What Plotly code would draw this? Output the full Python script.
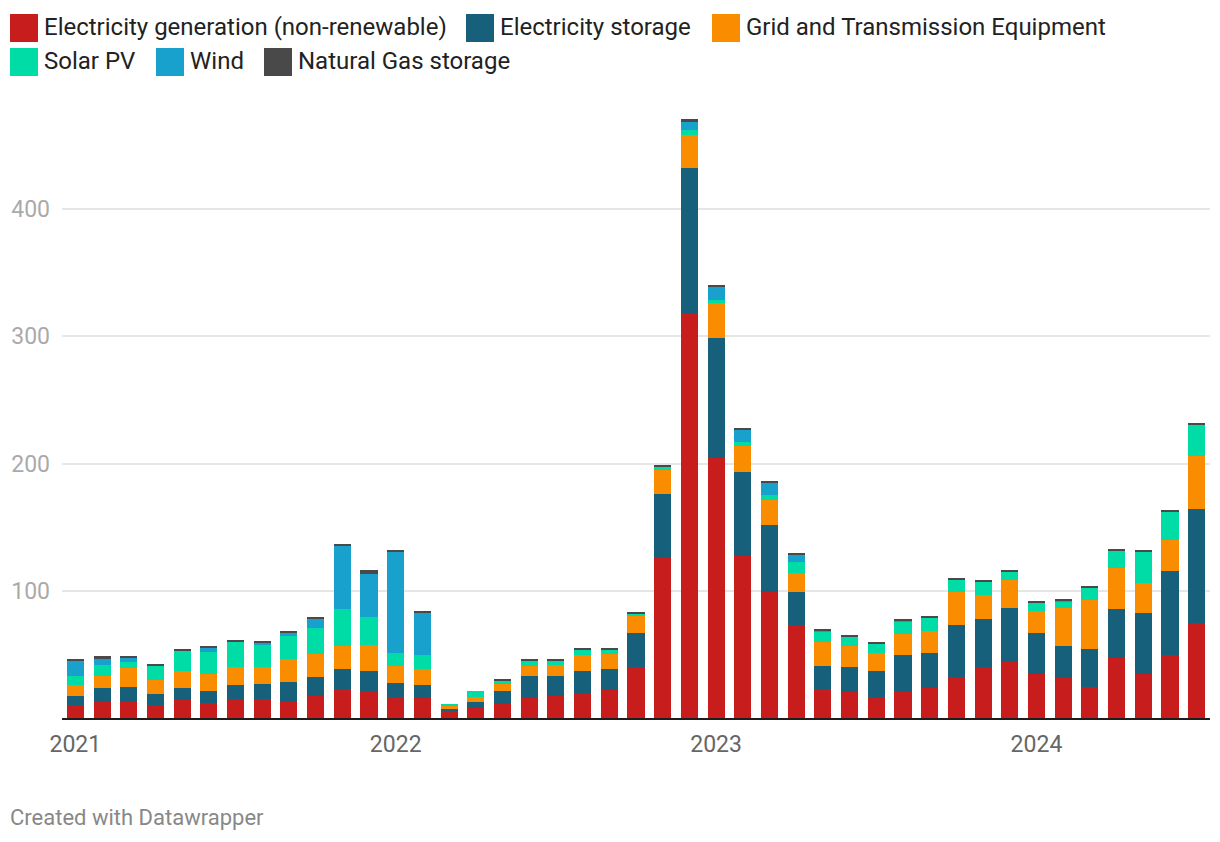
import plotly.graph_objects as go

months = [f"{m} {y}" for y in (2021, 2022, 2023, 2024)
          for m in ("Jan", "Feb", "Mar", "Apr", "May", "Jun", "Jul", "Aug", "Sep", "Oct", "Nov", "Dec")][:43]

gen_nonren = [10.2, 12.8, 12.8, 10.2, 14.4, 11.8, 14.9, 14.9, 13.3, 17.5, 22.8, 21.2,
              16.5, 16.0, 5.5, 8.1, 11.3, 16.0, 17.5, 19.6, 22.3, 40.1, 126.0, 318.3,
              204.6, 127.5, 99.3, 73.1, 22.8, 20.7, 16.5, 20.7, 23.8, 32.2, 40.1, 44.8,
              34.8, 31.7, 24.4, 47.4, 34.8, 49.5, 74.7]
storage = [7.1, 11.0, 11.6, 8.7, 9.2, 9.4, 11.0, 11.8, 15.0, 14.7, 15.7, 15.7,
           11.0, 9.9, 1.6, 4.5, 9.9, 17.2, 15.7, 17.3, 16.2, 26.7, 50.3, 113.9,
           94.0, 65.8, 52.4, 25.9, 18.1, 19.4, 20.4, 28.8, 27.3, 40.9, 37.7, 41.6,
           32.0, 24.9, 29.8, 38.2, 47.7, 66.0, 89.5]
grid = [8.6, 9.4, 15.1, 11.2, 13.3, 13.6, 14.2, 13.4, 18.1, 18.3, 18.3, 20.5,
        13.6, 12.6, 2.1, 3.9, 5.8, 7.9, 8.4, 12.6, 12.0, 13.6, 18.8, 26.0,
        27.5, 20.7, 19.8, 14.9, 19.1, 16.7, 14.2, 16.7, 17.3, 26.2, 18.9, 22.3,
        17.3, 30.1, 38.8, 32.5, 23.6, 24.6, 41.9]
solar = [7.3, 8.4, 4.5, 10.8, 16.5, 17.1, 19.6, 18.0, 18.1, 20.2, 28.8, 22.0,
         10.0, 11.0, 1.8, 4.7, 2.6, 3.7, 3.2, 3.9, 2.9, 1.6, 2.1, 3.8,
         2.4, 2.9, 3.7, 8.7, 7.8, 6.9, 7.8, 10.0, 10.2, 9.1, 10.2, 6.3,
         6.5, 5.2, 9.9, 13.9, 24.4, 21.8, 24.7]
wind = [11.6, 4.8, 3.4, 0, 0, 3.1, 0, 0.8, 2.4, 7.1, 49.6, 33.8,
        79.4, 33.0, 0, 0, 0, 0, 0, 0, 0, 0, 0, 6.4,
        10.2, 9.4, 9.5, 5.5, 0.6, 0, 0, 0.8, 0, 0, 0, 0,
        0, 0.8, 0, 0, 0, 0, 0]
gas = [1.6, 2.3, 1.3, 1.5, 0.8, 1.6, 1.6, 1.6, 1.5, 1.6, 0.8, 3.1,
       1.5, 1.6, 0, 0, 1.0, 1.6, 0.8, 1.6, 1.6, 1.3, 1.6, 2.3,
       1.6, 1.6, 1.5, 0.8, 1.5, 1.5, 1.1, 0.8, 0.8, 1.6, 0.8, 1.3,
       1.3, 0.8, 0.8, 0.8, 1.5, 0.8, 1.0]

series_names = ["Electricity generation (non-renewable)", "Electricity storage",
                "Grid and Transmission Equipment", "Solar PV", "Wind", "Natural Gas storage"]
series_values = [gen_nonren, storage, grid, solar, wind, gas]
colors = ["#c71e1d", "#17607b", "#fa8c00", "#00dca6", "#19a1cd", "#494949"]

year_ticks = ["Jan 2021", "Jan 2022", "Jan 2023", "Jan 2024"]
year_labels = ["2021", "2022", "2023", "2024"]
y_ticks = [100, 200, 300, 400]

W, H = 1220, 842
ML, MR, MT, MB = 62, 10, 100, 124
PW, PH = W - ML - MR, H - MT - MB

fig = go.Figure()
for name, vals, col in zip(series_names, series_values, colors):
    fig.add_trace(go.Bar(x=months, y=vals, name=name, marker=dict(color=col, line=dict(width=0)),
                         showlegend=False))


def px_x(p):
    return (p - ML) / PW


def px_y(p):
    return (H - MB - p) / PH


# manual legend (two rows, Datawrapper style)
legend_rows = [[0, 1, 2], [3, 4, 5]]
legend_swatch_x = [[10, 466, 712], [10, 156, 264]]
legend_row_y = [(14, 42), (48, 76)]
shapes = []
annotations = []
for r, row in enumerate(legend_rows):
    y0, y1 = legend_row_y[r]
    for i, si in enumerate(row):
        sx = legend_swatch_x[r][i]
        shapes.append(dict(type="rect", xref="paper", yref="paper",
                           x0=px_x(sx), x1=px_x(sx + 28), y0=px_y(y1), y1=px_y(y0),
                           fillcolor=colors[si], line=dict(width=0), layer="above"))
        annotations.append(dict(text=series_names[si], xref="paper", yref="paper",
                                x=px_x(sx + 32), y=px_y((y0 + y1) / 2 - 1), xanchor="left",
                                yanchor="middle", showarrow=False,
                                font=dict(family="Roboto", size=24, color="#222222")))

annotations.append(dict(text="Created with Datawrapper", xref="paper", yref="paper",
                        x=px_x(8), y=px_y(817), xanchor="left", yanchor="middle",
                        showarrow=False, font=dict(family="Roboto", size=22, color="#888888")))

fig.update_layout(
    barmode="stack",
    bargap=0.36,
    width=W, height=H,
    margin=dict(l=ML, r=MR, t=MT, b=MB),
    paper_bgcolor="white", plot_bgcolor="white",
    font=dict(family="Roboto"),
    shapes=shapes,
    annotations=annotations,
    xaxis=dict(type="category", tickmode="array", tickvals=year_ticks, ticktext=year_labels,
               showgrid=False, showline=True, linecolor="#1d1d1d", linewidth=2,
               ticks="", tickfont=dict(family="Roboto", size=23, color="#666666"),
               ticklabelstandoff=4, fixedrange=True),
    yaxis=dict(range=[0, PH / 1.2725], tickmode="array", tickvals=y_ticks,
               showgrid=True, gridcolor="#e6e6e6", gridwidth=2, zeroline=False,
               showline=False, ticks="", tickfont=dict(family="Roboto", size=23, color="#aaaaaa"),
               ticklabelstandoff=11, fixedrange=True),
)

fig.write_html("out.html", config={"displayModeBar": False})
